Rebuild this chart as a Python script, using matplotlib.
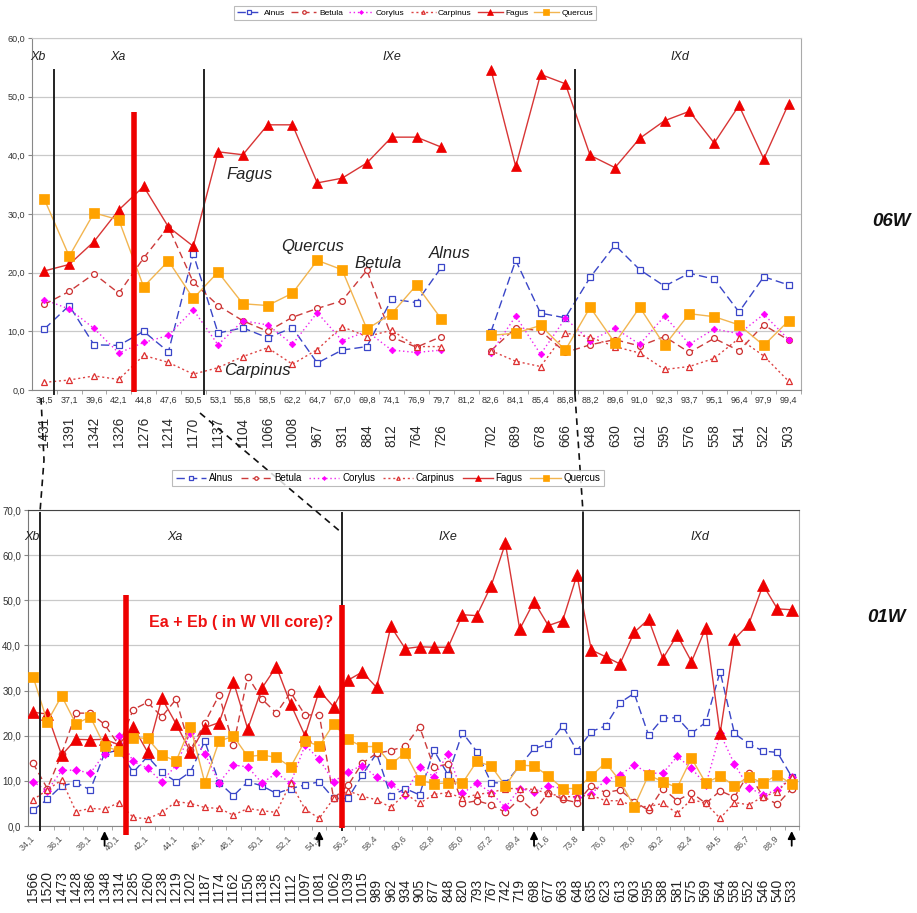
import numpy as np
import matplotlib
matplotlib.use("Agg")
import matplotlib.pyplot as plt
from matplotlib import transforms
from matplotlib.lines import Line2D

plt.rcParams['font.family'] = ['Liberation Sans', 'DejaVu Sans']

# ---------------- core 06W ----------------
top_depth = ['34,5', '37,1', '39,6', '42,1', '44,8', '47,6', '50,5', '53,1', '55,8', '58,5',
             '62,2', '64,7', '67,0', '69,8', '74,1', '76,9', '79,7', '81,2', '82,6', '84,1',
             '85,4', '86,8', '88,2', '89,6', '91,0', '92,3', '93,7', '95,1', '96,4', '97,9', '99,4']
top_years = ['1431', '1391', '1342', '1326', '1276', '1214', '1170', '1137', '1104', '1066',
             '1008', '967', '931', '884', '812', '764', '726', '', '702', '689',
             '678', '666', '648', '630', '612', '595', '576', '558', '541', '522', '503']

top_alnus = [10.4, 14.4, 7.7, 7.6, 10.0, 6.5, 23.2, 9.7, 10.6, 8.9, 10.6, 4.6, 6.8, 7.4, 15.5, 14.9, 20.9,
             None, 9.9, 22.1, 13.1, 12.3, 19.2, 24.7, 20.5, 17.7, 19.9, 18.9, 13.3, 19.3, 17.9]
top_betula = [14.6, 16.8, 19.8, 16.5, 22.5, 27.8, 18.4, 14.4, 11.8, 10.0, 12.4, 13.9, 15.2, 20.4, 9.0, 7.3, 9.1,
              None, 6.7, 10.6, 10.1, 6.4, 7.7, 8.6, 7.5, 9.1, 6.4, 8.8, 6.7, 11.1, 8.5]
top_corylus = [15.4, 13.8, 10.5, 6.3, 8.1, 9.3, 13.7, 7.7, 11.8, 11.1, 7.8, 13.2, 8.4, 10.0, 6.8, 6.4, 6.8,
               None, 6.3, 12.6, 6.1, 12.2, 8.4, 10.5, 7.8, 12.6, 7.8, 10.4, 9.6, 12.9, 8.6]
top_carpinus = [1.3, 1.7, 2.4, 1.8, 5.9, 4.7, 2.7, 3.8, 5.7, 7.2, 4.4, 6.9, 10.8, 9.1, 10.2, 7.4, 7.4,
                None, 6.7, 4.9, 4.0, 9.7, 9.0, 7.4, 6.3, 3.5, 4.0, 5.4, 8.8, 5.8, 1.5]
top_fagus = [20.3, 21.4, 25.3, 30.7, 34.7, 27.8, 24.5, 40.6, 40.1, 45.2, 45.2, 35.3, 36.1, 38.7, 43.1, 43.1, 41.4,
             None, 54.6, 38.1, 53.8, 52.2, 40.0, 37.9, 42.9, 45.9, 47.5, 42.1, 48.5, 39.4, 48.8]
top_quercus = [32.5, 22.8, 30.2, 29.0, 17.6, 22.0, 15.6, 20.1, 14.7, 14.4, 16.5, 22.1, 20.5, 10.4, 13.0, 17.9, 12.1,
               None, 9.3, 9.7, 11.0, 6.8, 14.1, 8.0, 14.1, 7.6, 13.0, 12.5, 11.1, 7.6, 11.8]

# ---------------- core 01W ----------------
bot_depth_shown = ['34,1', '36,1', '38,1', '40,1', '42,1', '44,1', '46,1', '48,1', '50,1', '52,1',
                   '54,1', '56,2', '58,4', '60,6', '62,8', '65,0', '67,2', '69,4', '71,6', '73,8',
                   '76,0', '78,0', '80,2', '82,4', '84,5', '86,7', '88,9']
bot_years = ['1566', '1520', '1473', '1428', '1386', '1348', '1314', '1285', '1260', '1238',
             '1219', '1202', '1187', '1174', '1162', '1150', '1138', '1125', '1112', '1097',
             '1081', '1062', '1039', '1015', '989', '962', '934', '905', '877', '848',
             '820', '793', '767', '742', '719', '698', '677', '663', '648', '635',
             '623', '613', '603', '595', '588', '581', '575', '569', '564', '558',
             '552', '546', '540', '533']

bot_alnus = [3.5, 5.9, 8.9, 9.6, 8.0, 16.1, 16.8, 11.9, 15.4, 11.9,
             9.8, 12.0, 18.8, 9.6, 6.7, 9.8, 8.9, 7.2, 8.3, 9.1,
             9.8, 6.1, 6.1, 11.3, 16.1, 6.6, 8.3, 6.9, 16.8, 11.3,
             20.7, 16.5, 9.6, 9.5, 13.3, 17.2, 18.1, 22.2, 16.7, 20.9,
             22.2, 27.3, 29.4, 20.1, 23.9, 24.0, 20.5, 23.0, 34.2, 20.5,
             18.2, 16.6, 16.3, 10.9]
bot_betula = [13.9, 8.3, 16.0, 25.0, 25.0, 22.5, 17.9, 25.8, 27.4, 24.2,
              28.1, 16.8, 22.9, 29.0, 17.9, 33.1, 28.1, 25.0, 29.6, 24.6,
              24.6, 6.1, 9.0, 13.9, 16.1, 16.7, 17.7, 22.0, 13.1, 13.7,
              5.0, 5.6, 4.7, 3.0, 6.1, 3.2, 7.4, 5.9, 5.2, 8.9,
              7.4, 8.0, 5.4, 3.5, 8.3, 5.6, 7.4, 5.0, 7.8, 6.4,
              11.7, 6.5, 4.8, 8.3]
bot_corylus = [9.8, 7.8, 12.3, 12.4, 11.7, 16.0, 19.9, 14.3, 12.8, 9.8,
               13.5, 20.7, 16.0, 9.6, 13.5, 13.1, 9.5, 11.7, 9.5, 17.9,
               14.8, 9.8, 12.0, 13.4, 10.8, 9.3, 6.9, 13.1, 10.9, 16.0,
               7.2, 9.5, 7.4, 4.1, 8.3, 7.6, 8.9, 8.3, 6.5, 7.1,
               10.2, 11.3, 13.5, 11.7, 11.7, 15.4, 12.8, 9.1, 20.5, 13.7,
               8.5, 6.9, 8.0, 10.9]
bot_carpinus = [5.8, 8.0, 10.2, 3.2, 3.9, 3.7, 5.2, 1.9, 1.6, 3.0,
                5.4, 5.0, 4.1, 3.9, 2.4, 3.9, 3.4, 3.0, 9.6, 3.7,
                1.7, 6.1, 7.8, 6.6, 5.8, 4.1, 7.2, 5.0, 7.0, 7.4,
                6.1, 7.0, 7.4, 8.3, 8.3, 8.1, 7.2, 6.5, 6.5, 6.8,
                5.6, 5.6, 4.3, 4.3, 5.0, 2.8, 5.9, 5.0, 1.7, 5.2,
                4.7, 6.5, 7.6, 10.9]
bot_fagus = [25.2, 24.8, 15.7, 19.2, 19.1, 19.2, 18.0, 22.0, 16.4, 28.3,
             22.6, 16.4, 21.8, 22.9, 32.0, 21.5, 30.6, 35.3, 27.0, 20.0,
             30.0, 26.4, 32.3, 34.1, 30.7, 44.2, 39.3, 39.7, 39.6, 39.6,
             46.8, 46.6, 53.2, 62.6, 43.6, 49.7, 44.4, 45.5, 55.6, 39.0,
             37.5, 35.9, 42.9, 45.8, 37.1, 42.3, 36.4, 43.9, 20.5, 41.4,
             44.7, 53.4, 48.1, 47.9]
bot_quercus = [33.1, 23.1, 28.8, 22.6, 24.2, 17.7, 16.6, 19.6, 19.4, 15.7,
               14.4, 22.0, 9.6, 18.8, 19.9, 15.4, 15.7, 15.2, 13.1, 18.9,
               17.7, 22.6, 19.2, 17.6, 17.6, 13.7, 16.2, 10.2, 9.3, 9.6,
               9.5, 14.3, 13.3, 8.9, 13.5, 13.3, 11.1, 8.3, 8.3, 11.1,
               14.0, 10.0, 4.3, 11.3, 9.8, 8.5, 15.0, 9.5, 11.1, 8.9,
               10.9, 9.5, 11.3, 9.3]

W, H = 917, 913


def fx(px):
    return px / W


def fy(py):
    return 1 - py / H


def as_array(vals):
    return np.array([np.nan if v is None else v for v in vals], dtype=float)


styles = {
    'Alnus': dict(color='#3a46c8', ls=(0, (6, 3)), marker='s', mfc='white', mec='#3a46c8', mew=0.9),
    'Betula': dict(color='#cc3b3b', ls=(0, (5, 3)), marker='o', mfc='white', mec='#cc3030', mew=0.9),
    'Corylus': dict(color='#ee22ee', ls=(0, (1, 2)), marker='D', mfc='#ff00ff', mec='#ff00ff', mew=0.5),
    'Carpinus': dict(color='#dd4444', ls=(0, (1.5, 2)), marker='^', mfc='white', mec='#dd3030', mew=0.9),
    'Fagus': dict(color='#d83535', ls='-', marker='^', mfc='#ee0000', mec='#ee0000', mew=0.5),
    'Quercus': dict(color='#f2b550', ls='-', marker='s', mfc='#ffa200', mec='#ffa200', mew=0.5),
}


def draw_series(ax, series, big):
    for name, vals in series:
        st = dict(styles[name])
        if name == 'Fagus':
            ms = big[0]
        elif name == 'Quercus':
            ms = big[1]
        elif name == 'Corylus':
            ms = big[2] * 0.8
        else:
            ms = big[2]
        x = np.arange(len(vals))
        ax.plot(x, as_array(vals), lw=1.0, ms=ms, label=name, zorder=3, **st)


def style_axes(ax, ymax, n, tickfs):
    ax.set_xlim(-0.5, n - 0.5)
    ax.set_ylim(0, ymax)
    ax.set_yticks(np.arange(0, ymax + 1, 10))
    ax.set_yticklabels([f"{v:.1f}".replace('.', ',') for v in np.arange(0, ymax + 1, 10)],
                       fontsize=tickfs, color='#333333')
    ax.yaxis.grid(True, color='#c9c9c9', lw=0.9)
    ax.set_axisbelow(True)
    ax.set_xticks(np.arange(n) + 0.5, minor=True)
    ax.tick_params(axis='x', which='minor', length=3, color='#999999')
    ax.tick_params(axis='x', which='major', length=0)
    ax.tick_params(axis='y', length=3, color='#888888', pad=2)


fig = plt.figure(figsize=(W / 100, H / 100), dpi=100)

# ---------- upper chart ----------
ax1 = fig.add_axes([fx(32), fy(390), (801 - 32) / W, (390 - 38) / H])
top_series = [('Alnus', top_alnus), ('Betula', top_betula), ('Corylus', top_corylus),
              ('Carpinus', top_carpinus), ('Fagus', top_fagus), ('Quercus', top_quercus)]
draw_series(ax1, top_series, (7.5, 7.0, 4.2))
style_axes(ax1, 60, len(top_depth), 6.5)
ax1.set_xticks(np.arange(len(top_depth)))
ax1.set_xticklabels(top_depth, fontsize=6.5, color='#333333')
ax1.tick_params(axis='x', which='major', pad=4)
for side, col in [('left', '#888888'), ('bottom', '#888888'), ('top', '#c9c9c9'), ('right', '#aaaaaa')]:
    ax1.spines[side].set_color(col)

for xv in (0.39, 6.43, 21.39):
    ax1.plot([xv, xv], [-0.6, 54.5], color='#222222', lw=1.4, zorder=5, clip_on=False)
ax1.plot([3.63, 3.63], [-0.3, 47.4], color='#ee0000', lw=4.0, zorder=6, clip_on=False, solid_capstyle='butt')

tr1 = transforms.blended_transform_factory(ax1.transData, ax1.transAxes)
for i, yr in enumerate(top_years):
    if yr:
        ax1.text(i, (390 - 447) / 352, yr, transform=tr1, rotation=90, ha='center', va='bottom',
                 fontsize=9.8, color='#2a2a2a')

# ---------- lower chart ----------
ax2 = fig.add_axes([fx(28), fy(826), (799 - 28) / W, (826 - 510) / H])
bot_series = [('Alnus', bot_alnus), ('Betula', bot_betula), ('Corylus', bot_corylus),
              ('Carpinus', bot_carpinus), ('Fagus', bot_fagus), ('Quercus', bot_quercus)]
draw_series(ax2, bot_series, (8.5, 7.6, 4.6))
style_axes(ax2, 70, len(bot_years), 7)
ax2.set_xlim(-0.35, 53.51)
shown_pos = np.arange(0, len(bot_years), 2)[:len(bot_depth_shown)]
ax2.set_xticks(shown_pos)
ax2.set_xticklabels(bot_depth_shown, fontsize=6.5, color='#555555', rotation=45,
                    ha='right', va='center', rotation_mode='anchor')
ax2.tick_params(axis='x', which='major', pad=8)
for side, col in [('left', '#777777'), ('bottom', '#888888'), ('top', '#444444'), ('right', '#aaaaaa')]:
    ax2.spines[side].set_color(col)

for xv in (0.49, 21.59, 38.42):
    ax2.plot([xv, xv], [-0.8, 69.3], color='#222222', lw=1.4, zorder=5, clip_on=False)
ax2.plot([6.5, 6.5], [-2.0, 51.2], color='#ee0000', lw=4.0, zorder=6, clip_on=False, solid_capstyle='butt')
ax2.plot([21.59, 21.59], [-0.4, 49.0], color='#ee0000', lw=4.0, zorder=6, clip_on=False, solid_capstyle='butt')

for i in (5, 20, 35, 53):
    ax2.annotate('', xy=(i, -0.5), xytext=(i, -5.0),
                 arrowprops=dict(arrowstyle='-|>', color='black', lw=1.3, mutation_scale=11),
                 annotation_clip=False)

tr2 = transforms.blended_transform_factory(ax2.transData, ax2.transAxes)
for i, yr in enumerate(bot_years):
    ax2.text(i, (826 - 902) / 316, yr, transform=tr2, rotation=90, ha='center', va='bottom',
             fontsize=10, color='#222222')

# ---------- dashed links between the two cores ----------
for pts in ([(41, 398), (44, 460), (40, 512)],
            [(200, 413), (342, 533)],
            [(575, 395), (583, 512)]):
    xs = [fx(p[0]) for p in pts]
    ys = [fy(p[1]) for p in pts]
    fig.add_artist(Line2D(xs, ys, transform=fig.transFigure, color='#111111', lw=1.2,
                          ls=(0, (4, 3))))

# ---------- legends ----------
handles, labels = ax1.get_legend_handles_labels()
leg1 = fig.legend(handles, labels, loc='center', bbox_to_anchor=(fx(415), fy(13)), ncol=6,
                  fontsize=6, frameon=True, fancybox=False, edgecolor='#aaaaaa',
                  handlelength=3.0, columnspacing=0.7, handletextpad=0.3, borderpad=0.35,
                  markerscale=0.6)
leg1.get_frame().set_linewidth(0.8)
handles2, labels2 = ax2.get_legend_handles_labels()
leg2 = fig.legend(handles2, labels2, loc='center', bbox_to_anchor=(fx(388), fy(478)), ncol=6,
                  fontsize=7, frameon=True, fancybox=False, edgecolor='#aaaaaa',
                  handlelength=3.1, columnspacing=0.8, handletextpad=0.3, borderpad=0.35,
                  markerscale=0.55)
leg2.get_frame().set_linewidth(0.8)

# ---------- annotations ----------
def ptext(px, py, s, **kw):
    fig.text(fx(px), fy(py), s, ha='center', va='center', **kw)


for px, py, s in [(38, 57, 'Xb'), (118, 57, 'Xa'), (392, 57, 'IXe'), (680, 57, 'IXd'),
                  (32, 537, 'Xb'), (175, 537, 'Xa'), (448, 537, 'IXe'), (700, 537, 'IXd')]:
    ptext(px, py, s, fontsize=9, style='italic', color='#222222')

for px, py, s in [(250, 175, 'Fagus'), (313, 246, 'Quercus'), (378, 263, 'Betula'),
                  (450, 254, 'Alnus'), (257, 370, 'Carpinus')]:
    ptext(px, py, s, fontsize=12, style='italic', color='#222222')

ptext(241, 622, 'Ea + Eb ( in W VII core)?', fontsize=11.5, fontweight='bold', color='#ee1111')
ptext(891, 222, '06W', fontsize=13.5, fontweight='bold', style='italic', color='#111111')
ptext(886, 617, '01W', fontsize=13.5, fontweight='bold', style='italic', color='#111111')

fig.savefig('out.png', dpi=100)
